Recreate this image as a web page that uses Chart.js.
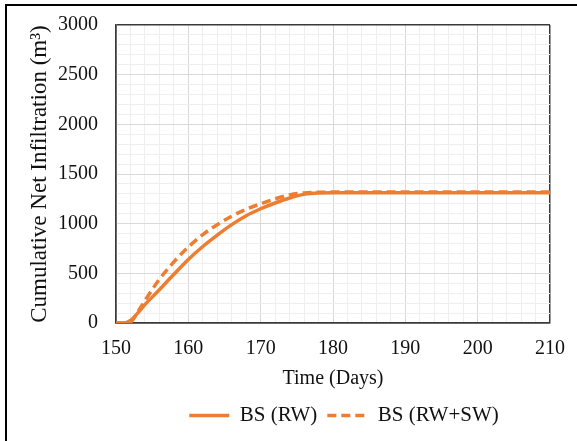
<!DOCTYPE html>
<html>
<head>
<meta charset="utf-8">
<script src="https://cdn.jsdelivr.net/npm/chart.js@4.4.1/dist/chart.umd.min.js"></script>
<style>
    html, body { margin: 0; padding: 0; background: #fff; }
    #wrap { position: relative; width: 577px; height: 441px; }
    #frame {
        position: absolute; left: 5px; top: 4px; right: -10px; bottom: -10px;
        border-top: 2px solid #000; border-left: 2px solid #000;
        pointer-events: none;
    }
</style>
</head>
<body>
<div id="wrap">
    <canvas id="infiltrationChart" width="577" height="441"></canvas>
    <div id="frame"></div>
</div>
<script>
// Time axis (days) and cumulative net infiltration (m3) for both scenarios
const days = [150, 151, 152, 153, 154, 156, 158, 160, 162, 164, 166, 168, 170, 172, 174, 176, 178, 180, 185, 190, 195, 200, 205, 210];
const bsRW = [0, 0, 25, 100, 185, 335, 490, 640, 770, 885, 990, 1080, 1150, 1208, 1258, 1295, 1308, 1310, 1310, 1310, 1310, 1310, 1310, 1310];
const bsRWSW = [0, 0, 10, 110, 225, 440, 615, 765, 890, 990, 1075, 1145, 1200, 1250, 1290, 1310, 1316, 1318, 1318, 1318, 1318, 1318, 1318, 1318];
const seriesLabels = ['BS (RW)', 'BS (RW+SW)'];

const xMin = 150, xMax = 210;
const yMin = 0, yMax = 3000;

const ORANGE = '#ED7D31';
const FONT = "'Liberation Serif', 'Times New Roman', serif";
const EDGE = '#3a3a3a';
const MAJOR = '#d9d9d9';
const MINOR = '#efefef';

function toPoints(values) {
    return days.map((d, i) => ({ x: d, y: values[i] }));
}

// major lines every 10 days / 500 m3, minor every 2 days / 100 m3
function gridColor(min, max, major) {
    return (ctx) => {
        const v = ctx.tick.value;
        if (v === min || v === max) return EDGE;
        return v % major === 0 ? MAJOR : MINOR;
    };
}
function gridWidth(min, max) {
    return (ctx) => {
        const v = ctx.tick.value;
        return (v === min || v === max) ? 1.5 : 1;
    };
}

// nudge the legend row to the right so it sits under the plot's centre
const legendShift = {
    id: 'legendShift',
    afterLayout(chart) {
        chart.legend.left += 11;
        chart.legend.right += 11;
    }
};

const chart = new Chart(document.getElementById('infiltrationChart'), {
    type: 'line',
    data: {
        datasets: [{
            label: seriesLabels[0],
            data: toPoints(bsRW),
            borderColor: ORANGE,
            backgroundColor: ORANGE,
            borderWidth: 3.5,
            pointRadius: 0,
            fill: false,
            cubicInterpolationMode: 'monotone'
        }, {
            label: seriesLabels[1],
            data: toPoints(bsRWSW),
            borderColor: ORANGE,
            backgroundColor: ORANGE,
            borderWidth: 3.5,
            borderDash: [9, 5],
            pointRadius: 0,
            fill: false,
            cubicInterpolationMode: 'monotone'
        }]
    },
    plugins: [legendShift],
    options: {
        responsive: false,
        devicePixelRatio: 1,
        animation: false,
        layout: {
            padding: { left: 20, right: 27, top: 25, bottom: 5 }
        },
        plugins: {
            legend: {
                position: 'bottom',
                fullSize: false,
                labels: {
                    usePointStyle: true,
                    pointStyle: 'line',
                    pointStyleWidth: 40,
                    padding: 10,
                    color: '#111',
                    font: { family: FONT, size: 21 },
                    // keep the dash pattern of each series in its legend sample
                    generateLabels: (chart) => {
                        const items = Chart.defaults.plugins.legend.labels.generateLabels(chart);
                        items.forEach((item) => {
                            item.lineDash = chart.data.datasets[item.datasetIndex].borderDash || [];
                        });
                        return items;
                    }
                }
            },
            tooltip: { enabled: false }
        },
        scales: {
            x: {
                type: 'linear',
                min: xMin,
                max: xMax,
                afterFit: (scale) => {
                    scale.height = 72;
                    scale.paddingLeft = 0;
                    scale.paddingRight = 0;
                },
                border: { color: EDGE, width: 1.5 },
                grid: {
                    drawTicks: false,
                    color: gridColor(xMin, xMax, 10),
                    lineWidth: gridWidth(xMin, xMax)
                },
                ticks: {
                    stepSize: 2,
                    autoSkip: false,
                    maxRotation: 0,
                    padding: 14,
                    color: '#111',
                    font: { family: FONT, size: 20 },
                    callback: (v) => (v % 10 === 0 ? v : '')
                },
                title: {
                    display: true,
                    text: 'Time (Days)',
                    color: '#111',
                    font: { family: FONT, size: 20 },
                    padding: { top: 0, bottom: 4 }
                }
            },
            y: {
                min: yMin,
                max: yMax,
                afterFit: (scale) => {
                    scale.width = 96;
                    scale.paddingTop = 0;
                    scale.paddingBottom = 0;
                },
                border: { color: EDGE, width: 1.5 },
                grid: {
                    drawTicks: false,
                    color: gridColor(yMin, yMax, 500),
                    lineWidth: gridWidth(yMin, yMax)
                },
                ticks: {
                    stepSize: 100,
                    autoSkip: false,
                    padding: 18,
                    color: '#111',
                    font: { family: FONT, size: 20 },
                    callback: (v) => (v % 500 === 0 ? v : '')
                },
                title: {
                    display: true,
                    text: 'Cumulative Net Infiltration (m³)',
                    color: '#111',
                    font: { family: FONT, size: 23 },
                    padding: { top: 6, bottom: 0 }
                }
            }
        }
    }
});
</script>
</body>
</html>
